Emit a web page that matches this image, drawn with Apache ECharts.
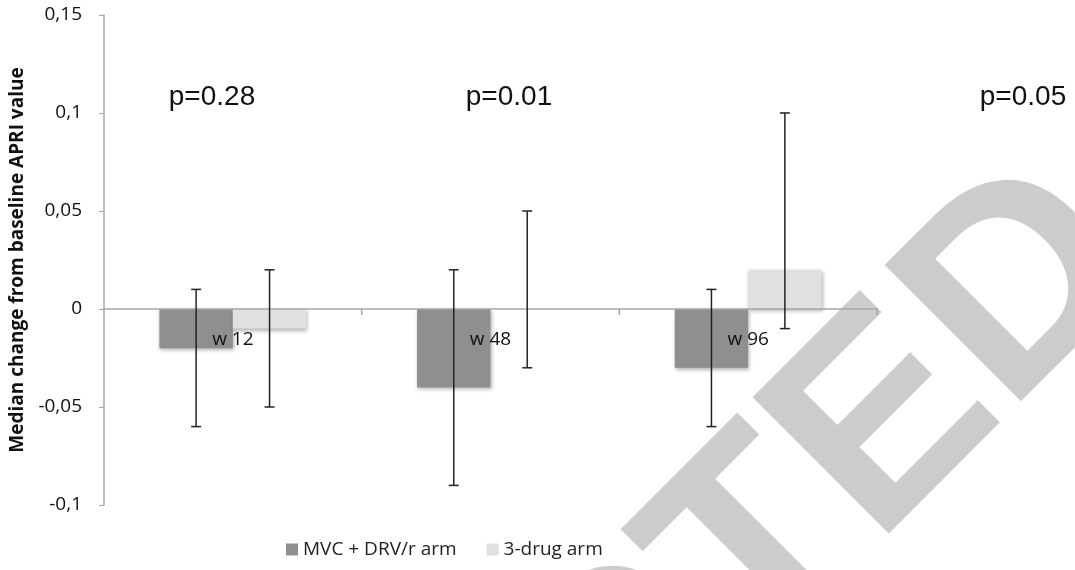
<!DOCTYPE html>
<html>
<head>
<meta charset="utf-8">
<script src="https://cdn.jsdelivr.net/npm/echarts@6/dist/echarts.min.js"></script>
<style>html,body{margin:0;padding:0;background:#fff;}#c{width:1075px;height:570px;}</style>
</head>
<body>
<div id="c"></div>
<script>
const categories = ['w 12', 'w 48', 'w 96'];
const seriesNames = ['MVC + DRV/r arm', '3-drug arm'];
const mvcValues = [-0.02, -0.04, -0.03];
const drugValues = [-0.01, 0, 0.02];
const mvcErrLow = [-0.06, -0.09, -0.06];
const mvcErrHigh = [0.01, 0.02, 0.01];
const drugErrLow = [-0.05, -0.03, -0.01];
const drugErrHigh = [0.02, 0.05, 0.1];
const pLabels = ['p=0.28', 'p=0.01', 'p=0.05'];
const yTicks = { min: -0.1, max: 0.15, interval: 0.05 };
const yTitle = 'Median change from baseline APRI value';
const watermark = 'RETRACTED';

const GAP = 0.43;
const colors = ['#8f8f8f', '#e0e0e0'];
const labelFont = "'Open Sans', sans-serif";

function errSeries(low, high, side) {
  return {
    type: 'custom',
    z: 5,
    silent: true,
    data: categories.map((c, i) => [i, low[i], high[i]]),
    renderItem: function (params, api) {
      const band = api.size([1, 0])[0];
      const barW = band * (1 - GAP) / 2;
      const c0 = api.coord([api.value(0), api.value(1)]);
      const c1 = api.coord([api.value(0), api.value(2)]);
      const x = c0[0] + side * barW / 2;
      const cap = 5;
      const st = { stroke: '#222', lineWidth: 1.5 };
      return {
        type: 'group',
        children: [
          { type: 'line', shape: { x1: x, y1: c0[1], x2: x, y2: c1[1] }, style: st },
          { type: 'line', shape: { x1: x - cap, y1: c0[1], x2: x + cap, y2: c0[1] }, style: st },
          { type: 'line', shape: { x1: x - cap, y1: c1[1], x2: x + cap, y2: c1[1] }, style: st }
        ]
      };
    }
  };
}

// category labels and boundary ticks placed on the zero line
const axisOnZero = {
  type: 'custom',
  z: 6,
  silent: true,
  data: categories.map((c, i) => [i, 0]),
  renderItem: function (params, api) {
    const i = api.value(0);
    const c = api.coord([i, 0]);
    const band = api.size([1, 0])[0];
    const tick = { stroke: '#a6a6a6', lineWidth: 1.5 };
    const children = [
      { type: 'text', x: c[0], y: c[1] + 31,
        style: { text: categories[i], font: "19px 'Open Sans', sans-serif", fill: '#111', textAlign: 'center', textVerticalAlign: 'middle' } },
      { type: 'line', shape: { x1: c[0] + band / 2, y1: c[1], x2: c[0] + band / 2, y2: c[1] + 6 }, style: tick }
    ];
    return { type: 'group', children: children };
  }
};

const chart = echarts.init(document.getElementById('c'), null, { renderer: 'canvas' });
const pX = [212, 509, 1023];
chart.setOption({
  animation: false,
  backgroundColor: '#fff',
  grid: { left: 104, right: 198, top: 15, bottom: 65, containLabel: false },
  legend: {
    left: 281, top: 535,
    itemWidth: 12, itemHeight: 12, itemGap: 30,
    icon: 'rect',
    textStyle: { fontFamily: labelFont, fontSize: 19, color: '#222' },
    data: seriesNames
  },
  xAxis: {
    type: 'category',
    data: categories,
    z: 4,
    axisLine: { onZero: true, lineStyle: { color: '#a6a6a6', width: 1.5 } },
    axisTick: { show: false },
    axisLabel: { show: false },
    splitLine: { show: false }
  },
  yAxis: {
    type: 'value',
    min: yTicks.min, max: yTicks.max, interval: yTicks.interval,
    z: 4,
    name: yTitle,
    nameLocation: 'middle',
    nameGap: 76,
    nameTextStyle: { fontFamily: labelFont, fontSize: 19, fontWeight: 'bold', color: '#111' },
    axisLine: { show: true, lineStyle: { color: '#a6a6a6', width: 1.5 } },
    axisTick: { show: true, length: 5, lineStyle: { color: '#a6a6a6' } },
    axisLabel: {
      margin: 22, fontFamily: labelFont, fontSize: 19, color: '#111',
      formatter: v => String(+v.toFixed(2)).replace('.', ',')
    },
    splitLine: { show: false }
  },
  series: [
    {
      name: seriesNames[0], type: 'bar', data: mvcValues, z: 3,
      barGap: 0, barCategoryGap: (GAP * 100) + '%',
      itemStyle: { color: colors[0], shadowBlur: 4, shadowColor: 'rgba(0,0,0,0.3)', shadowOffsetX: 1, shadowOffsetY: 2 }
    },
    {
      name: seriesNames[1], type: 'bar', data: drugValues, z: 3,
      barGap: 0, barCategoryGap: (GAP * 100) + '%',
      itemStyle: { color: colors[1], shadowBlur: 4, shadowColor: 'rgba(0,0,0,0.3)', shadowOffsetX: 1, shadowOffsetY: 2 }
    },
    errSeries(mvcErrLow, mvcErrHigh, -1),
    errSeries(drugErrLow, drugErrHigh, 1),
    axisOnZero
  ],
  graphic: [{
    type: 'text', x: 1096, y: 217, rotation: Math.PI / 4, z: -10, silent: true,
    style: { text: watermark, font: "bold 280px 'Liberation Sans', Arial, sans-serif", fill: '#cccccc', textAlign: 'right', textVerticalAlign: 'middle' }
  }].concat(pLabels.map((t, i) => ({
    type: 'text', x: pX[i], y: 97, z: 10,
    style: { text: t, font: "28px 'Liberation Sans', Arial, sans-serif", fill: '#111', textAlign: 'center', textVerticalAlign: 'middle' }
  })))
});
</script>
</body>
</html>
